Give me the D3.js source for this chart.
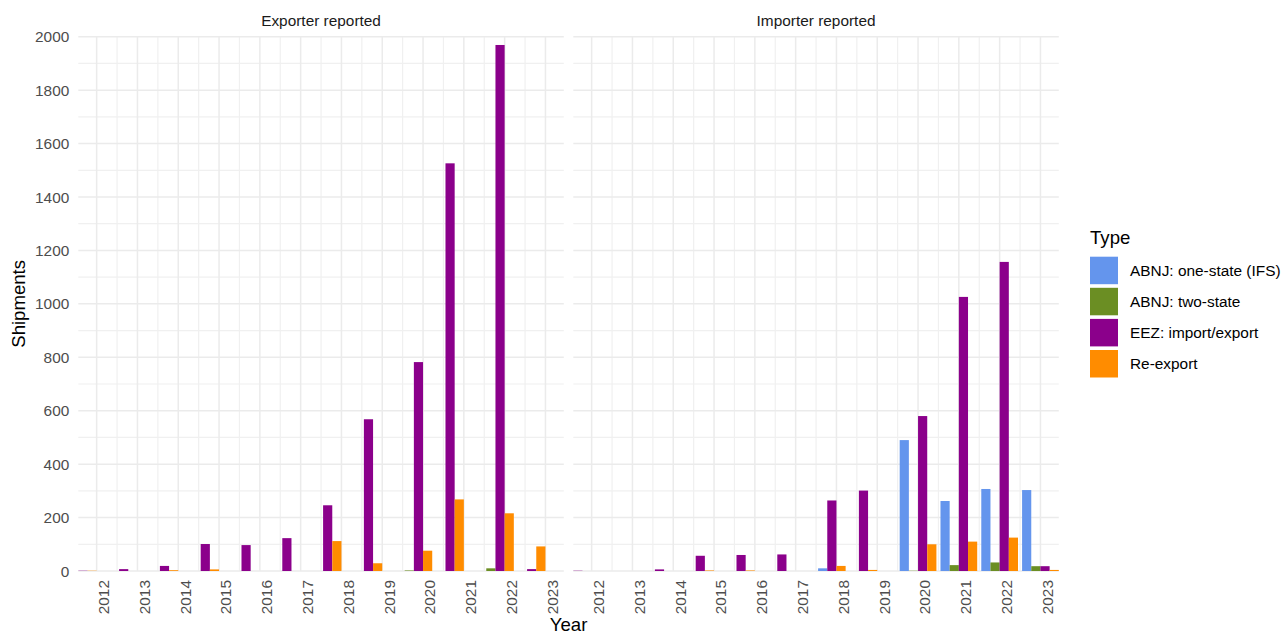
<!DOCTYPE html>
<html>
<head>
<meta charset="utf-8">
<script src="https://cdn.jsdelivr.net/npm/d3@7"></script>
<style>
  html, body { margin: 0; padding: 0; background: #ffffff; }
  svg { display: block; font-family: "Liberation Sans", Arial, sans-serif; }
</style>
</head>
<body>
<svg id="chart" width="1287" height="635"></svg>
<script>
// Shipments by year, split by reporting side and shipment type
const years = [2012, 2013, 2014, 2015, 2016, 2017, 2018, 2019, 2020, 2021, 2022, 2023];
const panels = ["Exporter reported", "Importer reported"];
const types = ["ABNJ: one-state (IFS)", "ABNJ: two-state", "EEZ: import/export", "Re-export"];
const yTicks = [0, 200, 400, 600, 800, 1000, 1200, 1400, 1600, 1800, 2000];

// null = no shipments recorded for that type and year
const exporterOneState = [null, null, null, null, null, null, null, null, null, null, null, null];
const exporterTwoState = [null, null, null, null, null, null, null, null, 2, null, 10, null];
const exporterEEZ      = [1, 7, 19, 101, 97, 123, 246, 568, 782, 1526, 1969, 7];
const exporterReexport = [1, null, 3, 6, null, null, 112, 29, 76, 268, 216, 92];

const importerOneState = [null, null, null, null, null, null, 10, null, 490, 262, 307, 303];
const importerTwoState = [null, null, null, null, null, null, null, null, 1, 22, 32, 18];
const importerEEZ      = [1, null, 6, 57, 60, 62, 264, 301, 580, 1026, 1157, 18];
const importerReexport = [null, null, null, 2, 2, null, 19, 4, 100, 110, 125, 4];

const palette = ["#6495ED", "#6B8E23", "#8B008B", "#FF8C00"];

const seriesByPanel = [
  [exporterOneState, exporterTwoState, exporterEEZ, exporterReexport],
  [importerOneState, importerTwoState, importerEEZ, importerReexport]
];

// Layout
const panelLeft = [78.3, 573.3];
const panelW = 485.5;
const panelTop = 36.7, panelBottom = 571;
const dodgeWidth = 0.9;

const svg = d3.select("#chart");

const x = d3.scaleLinear()
  .domain([d3.min(years) - dodgeWidth / 2, d3.max(years) + dodgeWidth / 2])
  .range([0, panelW]);
const y = d3.scaleLinear().domain([0, 2000]).range([panelBottom, panelTop]);
const color = d3.scaleOrdinal().domain(types).range(palette);

// Bars packed left within each year slot, slot width fixed by the busiest year
const rows = [];
seriesByPanel.forEach((series, p) => {
  years.forEach((yr, j) => {
    const present = types.map((t, k) => ({ type: t, value: series[k][j] }))
      .filter(d => d.value != null);
    present.forEach((d, i) => rows.push({ panel: p, year: yr, type: d.type, value: d.value, idx: i }));
  });
});
const nSlots = d3.max(seriesByPanel, s => d3.max(years, (yr, j) => s.filter(a => a[j] != null).length));

panels.forEach((name, p) => {
  const g = svg.append("g").attr("transform", `translate(${panelLeft[p]},0)`);

  // minor grid
  const minorX = years.map(v => v + 0.5).filter(v => v <= x.domain()[1]);
  g.selectAll("line.minx").data(minorX).join("line")
    .attr("x1", d => x(d)).attr("x2", d => x(d))
    .attr("y1", panelTop).attr("y2", panelBottom)
    .attr("stroke", "#F0F0F0").attr("stroke-width", 1.2);
  const minorY = yTicks.slice(1).map(v => v - 100);
  g.selectAll("line.miny").data(minorY).join("line")
    .attr("x1", 0).attr("x2", panelW)
    .attr("y1", d => y(d)).attr("y2", d => y(d))
    .attr("stroke", "#F0F0F0").attr("stroke-width", 1.2);

  // major grid
  g.selectAll("line.majx").data(years).join("line")
    .attr("x1", d => x(d)).attr("x2", d => x(d))
    .attr("y1", panelTop).attr("y2", panelBottom)
    .attr("stroke", "#EBEBEB").attr("stroke-width", 1.5);
  g.selectAll("line.majy").data(yTicks).join("line")
    .attr("x1", 0).attr("x2", panelW)
    .attr("y1", d => y(d)).attr("y2", d => y(d))
    .attr("stroke", "#EBEBEB").attr("stroke-width", 1.5);

  // bars
  const bw = (x(1) - x(0)) * dodgeWidth / nSlots;
  g.selectAll("rect.bar").data(rows.filter(r => r.panel === p)).join("rect")
    .attr("x", d => x(d.year + dodgeWidth * ((d.idx + 0.5) / nSlots - 0.5)) - bw / 2)
    .attr("width", bw)
    .attr("y", d => y(d.value))
    .attr("height", d => y(0) - y(d.value))
    .attr("fill", d => color(d.type));

  // strip title
  g.append("text")
    .attr("x", panelW / 2).attr("y", 26)
    .attr("text-anchor", "middle")
    .attr("font-size", 15.4).attr("fill", "#1A1A1A")
    .text(name);

  // x tick labels (rotated)
  g.selectAll("text.xt").data(years).join("text")
    .attr("transform", d => `translate(${x(d) + 12.3},580) rotate(-90)`)
    .attr("text-anchor", "end")
    .attr("font-size", 15.4).attr("fill", "#4D4D4D")
    .text(d => d);

  // y tick labels on the first panel only
  if (p === 0) {
    g.selectAll("text.yt").data(yTicks).join("text")
      .attr("x", -9).attr("y", d => y(d))
      .attr("dy", "0.36em")
      .attr("text-anchor", "end")
      .attr("font-size", 15.4).attr("fill", "#4D4D4D")
      .text(d => d);
  }
});

// axis titles
svg.append("text")
  .attr("transform", `translate(25,${(panelTop + panelBottom) / 2}) rotate(-90)`)
  .attr("text-anchor", "middle")
  .attr("font-size", 18.6).attr("fill", "#000")
  .text("Shipments");
svg.append("text")
  .attr("x", (panelLeft[0] + panelLeft[1] + panelW) / 2).attr("y", 630.5)
  .attr("text-anchor", "middle")
  .attr("font-size", 18.6).attr("fill", "#000")
  .text("Year");

// legend
const legend = svg.append("g").attr("transform", "translate(1090,0)");
legend.append("text")
  .attr("x", 0).attr("y", 243.5)
  .attr("font-size", 18.6).attr("fill", "#000")
  .text("Type");
const items = legend.selectAll("g.item").data(types).join("g")
  .attr("transform", (d, i) => `translate(0,${256.7 + i * 31.1})`);
items.append("rect")
  .attr("width", 28).attr("height", 27.5)
  .attr("fill", d => color(d));
items.append("text")
  .attr("x", 40).attr("y", 13.75).attr("dy", "0.36em")
  .attr("font-size", 15.4).attr("fill", "#000")
  .text(d => d);
</script>
</body>
</html>
